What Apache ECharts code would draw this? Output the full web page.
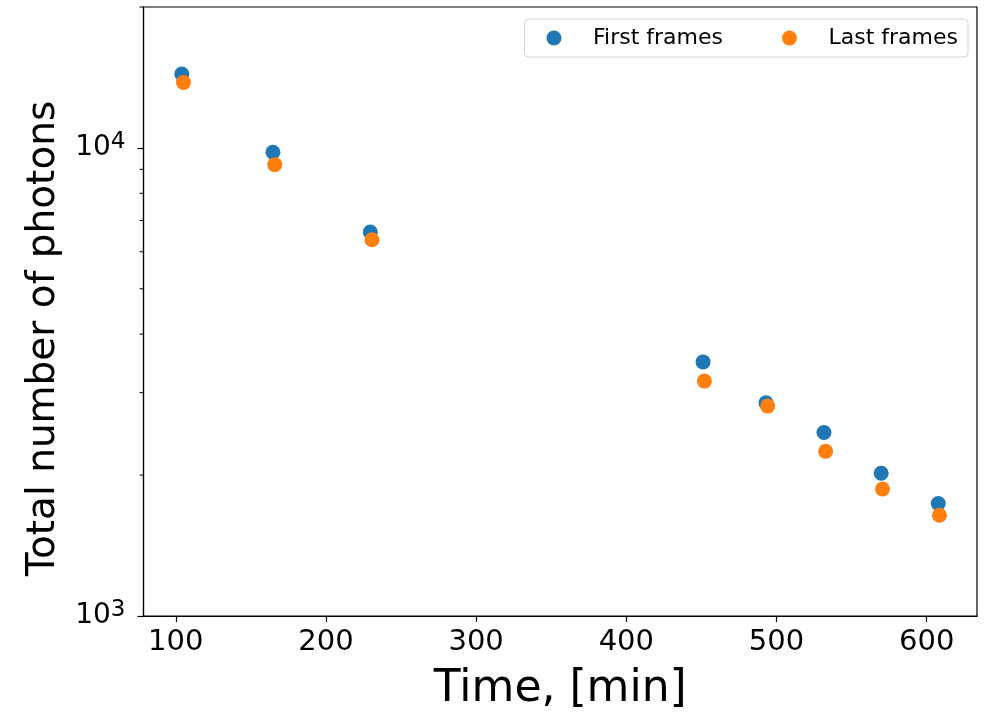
<!DOCTYPE html>
<html>
<head>
<meta charset="utf-8">
<script src="https://cdn.jsdelivr.net/npm/echarts@6/dist/echarts.min.js"></script>
<style>
  html, body { margin: 0; padding: 0; background: #fff; }
  #chart { width: 987px; height: 717px; }
</style>
</head>
<body>
<div id="chart"></div>
<script>
// ---- data ----
const firstTimes  = [104.0, 164.7, 229.5, 451.1, 493.0, 531.6, 569.7, 607.7];
const firstValues = [14380, 9790, 6610, 3490, 2855, 2467, 2018, 1739];
const lastTimes   = [105.1, 165.9, 230.6, 452.0, 494.1, 532.7, 570.6, 608.5];
const lastValues  = [13800, 9210, 6365, 3176, 2808, 2248, 1868, 1642];

const xTickValues = [100, 200, 300, 400, 500, 600];
const yMajorTicks = [1000, 10000];
const yMinorTicks = [2000, 3000, 4000, 5000, 6000, 7000, 8000, 9000, 20000];
const seriesNames = ['First frames', 'Last frames'];

const X_MIN = 78.5, X_MAX = 633.5, Y_MIN = 1000, Y_MAX = 20000;
const FONT = 'DejaVu Sans';

const chart = echarts.init(document.getElementById('chart'), null, { renderer: 'canvas' });

function zip(a, b) { return a.map((v, i) => [v, b[i]]); }

const option = {
  animation: false,
  backgroundColor: '#ffffff',
  grid: {
    left: 143.5, right: 10, top: 7, bottom: 100,
    show: true, borderColor: '#000', borderWidth: 1.2, backgroundColor: 'transparent'
  },
  legend: {
    data: seriesNames.map(n => ({ name: n, icon: 'circle' })),
    right: 19, top: 19,
    orient: 'horizontal',
    itemWidth: 40, itemHeight: 15, itemGap: 59,
    padding: [8, 10, 8, 22],
    borderColor: '#d5d5d5', borderWidth: 1, borderRadius: 4,
    backgroundColor: '#ffffff',
    textStyle: { fontFamily: FONT, fontSize: 22, color: '#000', padding: [0, 0, 0, 14] }
  },
  xAxis: {
    type: 'value', min: X_MIN, max: X_MAX,
    name: 'Time, [min]', nameLocation: 'middle', nameGap: 52,
    nameTextStyle: { fontFamily: FONT, fontSize: 44, color: '#000' },
    axisLine: { show: true, onZero: false, lineStyle: { color: '#000', width: 1.2 } },
    axisTick: { show: true, inside: false, length: 6, customValues: xTickValues, lineStyle: { color: '#000', width: 1.2 } },
    axisLabel: { show: true, customValues: xTickValues, margin: 12, fontFamily: FONT, fontSize: 29, color: '#000' },
    splitLine: { show: false }
  },
  yAxis: {
    type: 'log', logBase: 10, min: Y_MIN, max: Y_MAX,
    name: 'Total number of photons', nameLocation: 'middle', nameGap: 80, nameRotate: 90,
    nameTextStyle: { fontFamily: FONT, fontSize: 39, color: '#000', padding: [0, 54, 0, 0] },
    axisLine: { show: true, onZero: false, lineStyle: { color: '#000', width: 1.2 } },
    axisTick: { show: true, inside: false, length: 6, customValues: yMajorTicks, lineStyle: { color: '#000', width: 1.2 } },
    axisLabel: {
      show: true, customValues: yMajorTicks, margin: 18,
      formatter: function (v) {
        const e = Math.round(Math.log10(v));
        return '{b|10}{s|' + e + '}';
      },
      rich: {
        b: { fontFamily: FONT, fontSize: 28, color: '#000' },
        s: { fontFamily: FONT, fontSize: 23, color: '#000', verticalAlign: 'top', padding: [0, 0, 12, 0] }
      }
    },
    splitLine: { show: false }
  },
  series: [
    {
      name: 'minorTicks', type: 'custom', silent: true, clip: false,
      data: yMinorTicks.map(v => [X_MIN, v]),
      renderItem: function (params, api) {
        const p = api.coord([api.value(0), api.value(1)]);
        return {
          type: 'line',
          shape: { x1: p[0] - 4, y1: p[1], x2: p[0], y2: p[1] },
          style: { stroke: '#000', lineWidth: 1 }
        };
      },
      z: 1
    },
    {
      name: seriesNames[0], type: 'scatter',
      data: zip(firstTimes, firstValues),
      symbol: 'circle', symbolSize: 15,
      itemStyle: { color: '#1f77b4', opacity: 1 },
      z: 2
    },
    {
      name: seriesNames[1], type: 'scatter',
      data: zip(lastTimes, lastValues),
      symbol: 'circle', symbolSize: 15,
      itemStyle: { color: '#ff7f0e', opacity: 1 },
      z: 3
    }
  ]
};

chart.setOption(option);
</script>
</body>
</html>
